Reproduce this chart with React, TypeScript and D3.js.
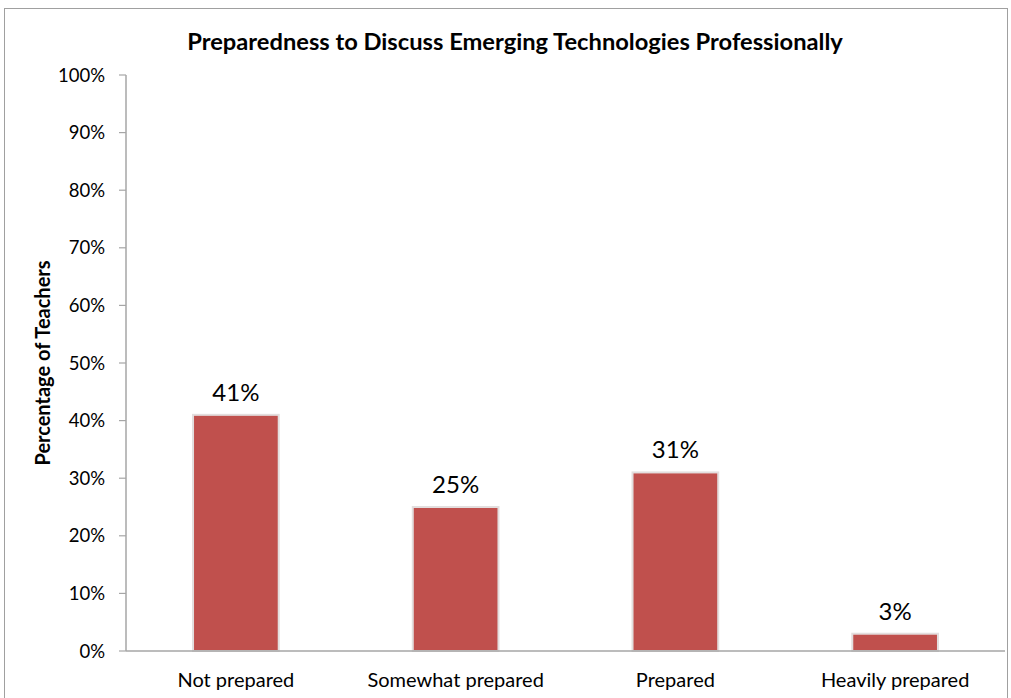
import React from "react";
import * as d3 from "d3";

const categories = ["Not prepared", "Somewhat prepared", "Prepared", "Heavily prepared"];
const values = [41, 25, 31, 3];
const yTicks = [0, 10, 20, 30, 40, 50, 60, 70, 80, 90, 100];
const title = "Preparedness to Discuss Emerging Technologies Professionally";
const yLabel = "Percentage of Teachers";

const W = 1011;
const H = 698;
const FONT = "Lato, 'Open Sans', sans-serif";

export default function App() {
  const left = 126;
  const right = 1005;
  const top = 75;
  const bottom = 651;
  const x = d3.scaleBand<string>().domain(categories).range([left, right]).paddingInner(0.61).paddingOuter(0.305);
  const y = d3.scaleLinear().domain([0, 100]).range([bottom, top]);

  return (
    <svg width={W} height={H} style={{ position: "absolute", left: 0, top: 0 }}>
      <rect x={0} y={0} width={W} height={H} fill="#fff" />
      <rect x={4.5} y={8.5} width={1003} height={700} fill="none" stroke="#a0a0a0" strokeWidth={1} />
      <text x={515} y={50} textAnchor="middle" fontFamily={FONT} fontWeight="bold" fontSize={23.7} fill="#000">
        {title}
      </text>
      <text
        transform={`translate(50,${363}) rotate(-90)`}
        textAnchor="middle"
        fontFamily={FONT}
        fontWeight="bold"
        fontSize={20}
        fill="#000"
      >
        {yLabel}
      </text>
      {yTicks.map((t) => (
        <g key={t}>
          <line x1={119} x2={left} y1={y(t)} y2={y(t)} stroke="#a6a6a6" strokeWidth={1.2} />
          <text x={105} y={y(t) + 6.5} textAnchor="end" fontFamily={FONT} fontSize={18.5} fill="#000">
            {t}%
          </text>
        </g>
      ))}
      <line x1={left} x2={left} y1={top} y2={bottom} stroke="#a6a6a6" strokeWidth={1.5} />
      {categories.map((c, i) => (
        <g key={c}>
          <rect
            x={x(c)!}
            y={y(values[i])}
            width={x.bandwidth()}
            height={bottom - y(values[i])}
            fill="#C0504D"
            stroke="#e3dede"
            strokeWidth={2}
          />
          <text
            x={x(c)! + x.bandwidth() / 2}
            y={y(values[i]) - 14}
            textAnchor="middle"
            fontFamily={FONT}
            fontSize={24}
            fill="#000"
          >
            {values[i]}%
          </text>
          <text
            x={x(c)! + x.bandwidth() / 2}
            y={687}
            textAnchor="middle"
            fontFamily={FONT}
            fontSize={20}
            fill="#000"
          >
            {c}
          </text>
        </g>
      ))}
      <line x1={left} x2={right} y1={bottom} y2={bottom} stroke="#a6a6a6" strokeWidth={1.5} />
    </svg>
  );
}
